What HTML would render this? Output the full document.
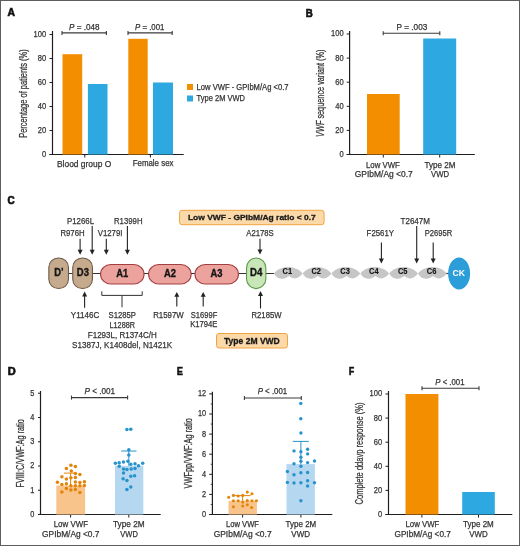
<!DOCTYPE html>
<html><head><meta charset="utf-8"><style>
html,body{margin:0;padding:0;background:#fff;}
body{width:520px;height:546px;overflow:hidden;}
svg{display:block;font-family:"Liberation Sans", sans-serif;will-change:transform;}
</style></head><body>
<svg width="520" height="546" viewBox="0 0 520 546">
<rect x="0" y="0" width="520" height="546" fill="#fff"/>
<text x="7.60" y="16.20" font-size="11.81" font-weight="bold" fill="#111" stroke="#111" stroke-width="0.7" textLength="7.50" lengthAdjust="spacingAndGlyphs">A</text>
<line x1="52.50" y1="31.00" x2="52.50" y2="155.00" stroke="#1e1e1e" stroke-width="1.20"/>
<line x1="49.50" y1="154.50" x2="183.70" y2="154.50" stroke="#1e1e1e" stroke-width="1.20"/>
<line x1="49.50" y1="154.50" x2="52.50" y2="154.50" stroke="#1e1e1e" stroke-width="1.00"/>
<text x="41.90" y="156.90" font-size="8.80" font-weight="normal" font-style="normal" fill="#333" stroke="#333" stroke-width="0.25" textLength="4.20" lengthAdjust="spacingAndGlyphs">0</text>
<line x1="49.50" y1="130.50" x2="52.50" y2="130.50" stroke="#1e1e1e" stroke-width="1.00"/>
<text x="37.70" y="132.90" font-size="8.80" font-weight="normal" font-style="normal" fill="#333" stroke="#333" stroke-width="0.25" textLength="8.40" lengthAdjust="spacingAndGlyphs">20</text>
<line x1="49.50" y1="106.50" x2="52.50" y2="106.50" stroke="#1e1e1e" stroke-width="1.00"/>
<text x="37.70" y="108.90" font-size="8.80" font-weight="normal" font-style="normal" fill="#333" stroke="#333" stroke-width="0.25" textLength="8.40" lengthAdjust="spacingAndGlyphs">40</text>
<line x1="49.50" y1="82.50" x2="52.50" y2="82.50" stroke="#1e1e1e" stroke-width="1.00"/>
<text x="37.70" y="84.90" font-size="8.80" font-weight="normal" font-style="normal" fill="#333" stroke="#333" stroke-width="0.25" textLength="8.40" lengthAdjust="spacingAndGlyphs">60</text>
<line x1="49.50" y1="58.50" x2="52.50" y2="58.50" stroke="#1e1e1e" stroke-width="1.00"/>
<text x="37.70" y="60.90" font-size="8.80" font-weight="normal" font-style="normal" fill="#333" stroke="#333" stroke-width="0.25" textLength="8.40" lengthAdjust="spacingAndGlyphs">80</text>
<line x1="49.50" y1="34.50" x2="52.50" y2="34.50" stroke="#1e1e1e" stroke-width="1.00"/>
<text x="33.50" y="36.90" font-size="8.80" font-weight="normal" font-style="normal" fill="#333" stroke="#333" stroke-width="0.25" textLength="12.60" lengthAdjust="spacingAndGlyphs">100</text>
<line x1="84.80" y1="154.50" x2="84.80" y2="157.50" stroke="#1e1e1e" stroke-width="1.00"/>
<line x1="150.40" y1="154.50" x2="150.40" y2="157.50" stroke="#1e1e1e" stroke-width="1.00"/>
<rect x="62.50" y="54.20" width="19.70" height="100.30" fill="#f28e00"/>
<rect x="87.90" y="84.00" width="19.60" height="70.50" fill="#2ea8e0"/>
<rect x="128.30" y="38.80" width="19.40" height="115.70" fill="#f28e00"/>
<rect x="153.00" y="82.50" width="20.00" height="72.00" fill="#2ea8e0"/>
<line x1="62.00" y1="32.90" x2="106.40" y2="32.90" stroke="#3a3a3a" stroke-width="1.10"/>
<line x1="62.00" y1="30.90" x2="62.00" y2="34.90" stroke="#3a3a3a" stroke-width="1.10"/>
<line x1="106.40" y1="30.90" x2="106.40" y2="34.90" stroke="#3a3a3a" stroke-width="1.10"/>
<line x1="128.00" y1="32.90" x2="172.20" y2="32.90" stroke="#3a3a3a" stroke-width="1.10"/>
<line x1="128.00" y1="30.90" x2="128.00" y2="34.90" stroke="#3a3a3a" stroke-width="1.10"/>
<line x1="172.20" y1="30.90" x2="172.20" y2="34.90" stroke="#3a3a3a" stroke-width="1.10"/>
<text x="69.10" y="29.60" font-size="8.60" font-weight="normal" font-style="normal" fill="#333" stroke="#333" stroke-width="0.25" textLength="30.30" lengthAdjust="spacingAndGlyphs"><tspan font-style="italic">P</tspan> = .048</text>
<text x="135.10" y="29.60" font-size="8.60" font-weight="normal" font-style="normal" fill="#333" stroke="#333" stroke-width="0.25" textLength="29.30" lengthAdjust="spacingAndGlyphs"><tspan font-style="italic">P</tspan> = .001</text>
<text x="57.00" y="166.50" font-size="8.80" font-weight="normal" font-style="normal" fill="#333" stroke="#333" stroke-width="0.25" textLength="54.20" lengthAdjust="spacingAndGlyphs">Blood group O</text>
<text x="132.70" y="166.30" font-size="8.80" font-weight="normal" font-style="normal" fill="#333" stroke="#333" stroke-width="0.25" textLength="40.80" lengthAdjust="spacingAndGlyphs">Female sex</text>
<text transform="translate(27.20,93.55) rotate(-90)" x="0" y="0" font-size="10.20" fill="#333" stroke="#333" stroke-width="0.25" text-anchor="middle" textLength="88.50" lengthAdjust="spacingAndGlyphs">Percentage of patients (%)</text>
<rect x="187.00" y="84.00" width="6.00" height="6.00" fill="#f28e00"/>
<rect x="187.00" y="95.50" width="6.00" height="6.00" fill="#2ea8e0"/>
<text x="196.60" y="89.60" font-size="8.60" font-weight="normal" font-style="normal" fill="#333" stroke="#333" stroke-width="0.25" textLength="91.90" lengthAdjust="spacingAndGlyphs">Low VWF - GPIbM/Ag &lt;0.7</text>
<text x="196.60" y="101.20" font-size="8.60" font-weight="normal" font-style="normal" fill="#333" stroke="#333" stroke-width="0.25" textLength="48.40" lengthAdjust="spacingAndGlyphs">Type 2M VWD</text>
<text x="305.70" y="16.60" font-size="11.39" font-weight="bold" fill="#111" stroke="#111" stroke-width="0.7" textLength="7.00" lengthAdjust="spacingAndGlyphs">B</text>
<line x1="349.60" y1="31.00" x2="349.60" y2="155.00" stroke="#1e1e1e" stroke-width="1.20"/>
<line x1="346.70" y1="154.50" x2="474.80" y2="154.50" stroke="#1e1e1e" stroke-width="1.20"/>
<line x1="346.70" y1="154.50" x2="349.70" y2="154.50" stroke="#1e1e1e" stroke-width="1.00"/>
<text x="339.40" y="156.90" font-size="8.80" font-weight="normal" font-style="normal" fill="#333" stroke="#333" stroke-width="0.25" textLength="4.20" lengthAdjust="spacingAndGlyphs">0</text>
<line x1="346.70" y1="130.40" x2="349.70" y2="130.40" stroke="#1e1e1e" stroke-width="1.00"/>
<text x="335.20" y="132.80" font-size="8.80" font-weight="normal" font-style="normal" fill="#333" stroke="#333" stroke-width="0.25" textLength="8.40" lengthAdjust="spacingAndGlyphs">20</text>
<line x1="346.70" y1="106.30" x2="349.70" y2="106.30" stroke="#1e1e1e" stroke-width="1.00"/>
<text x="335.20" y="108.70" font-size="8.80" font-weight="normal" font-style="normal" fill="#333" stroke="#333" stroke-width="0.25" textLength="8.40" lengthAdjust="spacingAndGlyphs">40</text>
<line x1="346.70" y1="82.20" x2="349.70" y2="82.20" stroke="#1e1e1e" stroke-width="1.00"/>
<text x="335.20" y="84.60" font-size="8.80" font-weight="normal" font-style="normal" fill="#333" stroke="#333" stroke-width="0.25" textLength="8.40" lengthAdjust="spacingAndGlyphs">60</text>
<line x1="346.70" y1="58.10" x2="349.70" y2="58.10" stroke="#1e1e1e" stroke-width="1.00"/>
<text x="335.20" y="60.50" font-size="8.80" font-weight="normal" font-style="normal" fill="#333" stroke="#333" stroke-width="0.25" textLength="8.40" lengthAdjust="spacingAndGlyphs">80</text>
<line x1="346.70" y1="34.00" x2="349.70" y2="34.00" stroke="#1e1e1e" stroke-width="1.00"/>
<text x="331.00" y="36.40" font-size="8.80" font-weight="normal" font-style="normal" fill="#333" stroke="#333" stroke-width="0.25" textLength="12.60" lengthAdjust="spacingAndGlyphs">100</text>
<line x1="383.30" y1="154.50" x2="383.30" y2="157.50" stroke="#1e1e1e" stroke-width="1.00"/>
<line x1="439.70" y1="154.50" x2="439.70" y2="157.50" stroke="#1e1e1e" stroke-width="1.00"/>
<rect x="367.00" y="94.00" width="32.70" height="60.50" fill="#f28e00"/>
<rect x="423.20" y="38.50" width="33.00" height="116.00" fill="#2ea8e0"/>
<line x1="383.20" y1="33.20" x2="439.80" y2="33.20" stroke="#3a3a3a" stroke-width="1.10"/>
<line x1="383.20" y1="31.20" x2="383.20" y2="35.20" stroke="#3a3a3a" stroke-width="1.10"/>
<line x1="439.80" y1="31.20" x2="439.80" y2="35.20" stroke="#3a3a3a" stroke-width="1.10"/>
<text x="396.60" y="29.70" font-size="8.60" font-weight="normal" font-style="normal" fill="#333" stroke="#333" stroke-width="0.25" textLength="30.70" lengthAdjust="spacingAndGlyphs">P = .003</text>
<text x="366.00" y="167.80" font-size="8.80" font-weight="normal" font-style="normal" fill="#333" stroke="#333" stroke-width="0.25" textLength="33.80" lengthAdjust="spacingAndGlyphs">Low VWF</text>
<text x="354.80" y="177.00" font-size="8.80" font-weight="normal" font-style="normal" fill="#333" stroke="#333" stroke-width="0.25" textLength="58.00" lengthAdjust="spacingAndGlyphs">GPIbM/Ag &lt;0.7</text>
<text x="424.40" y="167.80" font-size="8.80" font-weight="normal" font-style="normal" fill="#333" stroke="#333" stroke-width="0.25" textLength="31.00" lengthAdjust="spacingAndGlyphs">Type 2M</text>
<text x="431.00" y="177.00" font-size="8.80" font-weight="normal" font-style="normal" fill="#333" stroke="#333" stroke-width="0.25" textLength="18.00" lengthAdjust="spacingAndGlyphs">VWD</text>
<text transform="translate(323.80,93.20) rotate(-90)" x="0" y="0" font-size="10.20" fill="#333" stroke="#333" stroke-width="0.25" text-anchor="middle" textLength="87.40" lengthAdjust="spacingAndGlyphs"><tspan font-style="italic">VWF</tspan> sequence variant (%)</text>
<text x="7.60" y="203.90" font-size="10.69" font-weight="bold" fill="#111" stroke="#111" stroke-width="0.7" textLength="7.10" lengthAdjust="spacingAndGlyphs">C</text>
<line x1="68.50" y1="273.50" x2="274.00" y2="273.50" stroke="#333" stroke-width="1.20"/>
<line x1="444.00" y1="273.50" x2="449.00" y2="273.50" stroke="#333" stroke-width="1.20"/>
<path d="M273.80,273.60 C280.43,264.70 296.00,264.70 302.63,273.60 C298.60,279.30 293.41,279.70 289.02,275.90 C282.45,280.30 277.55,279.70 273.80,273.60 Z" fill="#c6c6c6"/>
<text x="282.62" y="274.3" font-size="8.4" font-weight="bold" fill="#111" stroke="#111" stroke-width="0.12" textLength="9.6" lengthAdjust="spacingAndGlyphs">C1</text>
<path d="M302.63,273.60 C309.26,264.70 324.83,264.70 331.47,273.60 C327.43,279.30 322.24,279.70 317.85,275.90 C311.28,280.30 306.38,279.70 302.63,273.60 Z" fill="#c6c6c6"/>
<text x="311.45" y="274.3" font-size="8.4" font-weight="bold" fill="#111" stroke="#111" stroke-width="0.12" textLength="9.6" lengthAdjust="spacingAndGlyphs">C2</text>
<path d="M331.47,273.60 C338.10,264.70 353.67,264.70 360.30,273.60 C356.26,279.30 351.07,279.70 346.68,275.90 C340.12,280.30 335.22,279.70 331.47,273.60 Z" fill="#c6c6c6"/>
<text x="340.28" y="274.3" font-size="8.4" font-weight="bold" fill="#111" stroke="#111" stroke-width="0.12" textLength="9.6" lengthAdjust="spacingAndGlyphs">C3</text>
<path d="M360.30,273.60 C366.93,264.70 382.50,264.70 389.13,273.60 C385.10,279.30 379.91,279.70 375.52,275.90 C368.95,280.30 364.05,279.70 360.30,273.60 Z" fill="#c6c6c6"/>
<text x="369.12" y="274.3" font-size="8.4" font-weight="bold" fill="#111" stroke="#111" stroke-width="0.12" textLength="9.6" lengthAdjust="spacingAndGlyphs">C4</text>
<path d="M389.13,273.60 C395.76,264.70 411.33,264.70 417.97,273.60 C413.93,279.30 408.74,279.70 404.35,275.90 C397.78,280.30 392.88,279.70 389.13,273.60 Z" fill="#c6c6c6"/>
<text x="397.95" y="274.3" font-size="8.4" font-weight="bold" fill="#111" stroke="#111" stroke-width="0.12" textLength="9.6" lengthAdjust="spacingAndGlyphs">C5</text>
<path d="M417.97,273.60 C424.60,264.70 440.17,264.70 446.80,273.60 C442.76,279.30 437.57,279.70 433.18,275.90 C426.62,280.30 421.72,279.70 417.97,273.60 Z" fill="#c6c6c6"/>
<text x="426.78" y="274.3" font-size="8.4" font-weight="bold" fill="#111" stroke="#111" stroke-width="0.12" textLength="9.6" lengthAdjust="spacingAndGlyphs">C6</text>
<rect x="48.85" y="257.95" width="19.60" height="30.60" rx="9.60" ry="9.20" fill="#c6aa8d" stroke="#6f5a47" stroke-width="1.10"/>
<rect x="72.75" y="257.95" width="19.70" height="30.60" rx="9.60" ry="9.20" fill="#c6aa8d" stroke="#6f5a47" stroke-width="1.10"/>
<rect x="100.55" y="264.45" width="43.50" height="19.60" rx="10.30" ry="10.30" fill="#eca39e" stroke="#a53e40" stroke-width="1.10"/>
<rect x="148.55" y="264.45" width="42.60" height="19.60" rx="10.30" ry="10.30" fill="#eca39e" stroke="#a53e40" stroke-width="1.10"/>
<rect x="194.95" y="264.45" width="43.50" height="19.60" rx="10.30" ry="10.30" fill="#eca39e" stroke="#a53e40" stroke-width="1.10"/>
<rect x="246.55" y="257.95" width="19.30" height="30.70" rx="9.80" ry="10.00" fill="#c9e6b8" stroke="#5d9b4a" stroke-width="1.10"/>
<ellipse cx="459.1" cy="273.45" rx="11" ry="16.05" fill="#2b9dd9"/>
<text x="54.20" y="276.40" font-size="10.00" font-weight="bold" fill="#161616" stroke="#161616" stroke-width="0.35" textLength="9.30" lengthAdjust="spacingAndGlyphs">D&#8217;</text>
<text x="76.80" y="276.40" font-size="10.00" font-weight="bold" fill="#161616" stroke="#161616" stroke-width="0.35" textLength="12.10" lengthAdjust="spacingAndGlyphs">D3</text>
<text x="116.20" y="276.60" font-size="10.00" font-weight="bold" fill="#161616" stroke="#161616" stroke-width="0.35" textLength="12.00" lengthAdjust="spacingAndGlyphs">A1</text>
<text x="164.00" y="276.60" font-size="10.00" font-weight="bold" fill="#161616" stroke="#161616" stroke-width="0.35" textLength="12.00" lengthAdjust="spacingAndGlyphs">A2</text>
<text x="210.60" y="276.60" font-size="10.00" font-weight="bold" fill="#161616" stroke="#161616" stroke-width="0.35" textLength="12.00" lengthAdjust="spacingAndGlyphs">A3</text>
<text x="250.10" y="276.40" font-size="10.00" font-weight="bold" fill="#161616" stroke="#161616" stroke-width="0.35" textLength="12.30" lengthAdjust="spacingAndGlyphs">D4</text>
<text x="452.5" y="276.4" font-size="9.4" font-weight="bold" fill="#ffffff" textLength="12.5" lengthAdjust="spacingAndGlyphs">CK</text>
<line x1="80.10" y1="238.80" x2="80.10" y2="251.70" stroke="#222" stroke-width="1.10"/>
<path d="M77.60,249.80 L82.60,249.80 L80.10,254.70 Z" fill="#222"/>
<line x1="92.20" y1="226.00" x2="92.20" y2="251.70" stroke="#222" stroke-width="1.10"/>
<path d="M89.70,249.80 L94.70,249.80 L92.20,254.70 Z" fill="#222"/>
<line x1="106.30" y1="238.80" x2="106.30" y2="251.70" stroke="#222" stroke-width="1.10"/>
<path d="M103.80,249.80 L108.80,249.80 L106.30,254.70 Z" fill="#222"/>
<line x1="127.40" y1="226.00" x2="127.40" y2="251.70" stroke="#222" stroke-width="1.10"/>
<path d="M124.90,249.80 L129.90,249.80 L127.40,254.70 Z" fill="#222"/>
<line x1="260.00" y1="238.80" x2="260.00" y2="251.40" stroke="#222" stroke-width="1.10"/>
<path d="M257.50,249.50 L262.50,249.50 L260.00,254.40 Z" fill="#222"/>
<line x1="381.40" y1="242.60" x2="381.40" y2="260.40" stroke="#222" stroke-width="1.10"/>
<path d="M378.90,258.50 L383.90,258.50 L381.40,263.40 Z" fill="#222"/>
<line x1="416.70" y1="226.00" x2="416.70" y2="260.40" stroke="#222" stroke-width="1.10"/>
<path d="M414.20,258.50 L419.20,258.50 L416.70,263.40 Z" fill="#222"/>
<line x1="433.20" y1="242.60" x2="433.20" y2="260.40" stroke="#222" stroke-width="1.10"/>
<path d="M430.70,258.50 L435.70,258.50 L433.20,263.40 Z" fill="#222"/>
<line x1="84.60" y1="294.60" x2="84.60" y2="307.70" stroke="#222" stroke-width="1.10"/>
<path d="M82.10,296.50 L87.10,296.50 L84.60,291.60 Z" fill="#222"/>
<line x1="176.80" y1="294.90" x2="176.80" y2="306.50" stroke="#222" stroke-width="1.10"/>
<path d="M174.30,296.80 L179.30,296.80 L176.80,291.90 Z" fill="#222"/>
<line x1="203.20" y1="294.90" x2="203.20" y2="306.50" stroke="#222" stroke-width="1.10"/>
<path d="M200.70,296.80 L205.70,296.80 L203.20,291.90 Z" fill="#222"/>
<line x1="260.50" y1="294.10" x2="260.50" y2="308.50" stroke="#222" stroke-width="1.10"/>
<path d="M258.00,296.00 L263.00,296.00 L260.50,291.10 Z" fill="#222"/>
<path d="M101.8,291.3 L101.8,295.4 L142.2,295.4 L142.2,291.3" fill="none" stroke="#333" stroke-width="1"/>
<line x1="122.00" y1="295.40" x2="122.00" y2="307.30" stroke="#333" stroke-width="1.00"/>
<text x="67.00" y="224.00" font-size="9.50" font-weight="normal" font-style="normal" fill="#333" stroke="#333" stroke-width="0.25" textLength="27.00" lengthAdjust="spacingAndGlyphs">P1266L</text>
<text x="60.40" y="236.20" font-size="9.50" font-weight="normal" font-style="normal" fill="#333" stroke="#333" stroke-width="0.25" textLength="24.20" lengthAdjust="spacingAndGlyphs">R976H</text>
<text x="97.70" y="236.00" font-size="9.50" font-weight="normal" font-style="normal" fill="#333" stroke="#333" stroke-width="0.25" textLength="24.80" lengthAdjust="spacingAndGlyphs">V1279I</text>
<text x="114.00" y="223.90" font-size="9.50" font-weight="normal" font-style="normal" fill="#333" stroke="#333" stroke-width="0.25" textLength="28.50" lengthAdjust="spacingAndGlyphs">R1399H</text>
<text x="246.25" y="236.20" font-size="9.50" font-weight="normal" font-style="normal" fill="#333" stroke="#333" stroke-width="0.25" textLength="27.50" lengthAdjust="spacingAndGlyphs">A2178S</text>
<text x="366.60" y="236.00" font-size="9.50" font-weight="normal" font-style="normal" fill="#333" stroke="#333" stroke-width="0.25" textLength="27.50" lengthAdjust="spacingAndGlyphs">F2561Y</text>
<text x="400.50" y="223.60" font-size="9.50" font-weight="normal" font-style="normal" fill="#333" stroke="#333" stroke-width="0.25" textLength="29.50" lengthAdjust="spacingAndGlyphs">T2647M</text>
<text x="424.80" y="236.00" font-size="9.50" font-weight="normal" font-style="normal" fill="#333" stroke="#333" stroke-width="0.25" textLength="27.50" lengthAdjust="spacingAndGlyphs">P2695R</text>
<text x="70.80" y="318.00" font-size="9.50" font-weight="normal" font-style="normal" fill="#333" stroke="#333" stroke-width="0.25" textLength="28.40" lengthAdjust="spacingAndGlyphs">Y1146C</text>
<text x="108.60" y="318.30" font-size="9.50" font-weight="normal" font-style="normal" fill="#333" stroke="#333" stroke-width="0.25" textLength="27.40" lengthAdjust="spacingAndGlyphs">S1285P</text>
<text x="109.50" y="327.50" font-size="9.50" font-weight="normal" font-style="normal" fill="#333" stroke="#333" stroke-width="0.25" textLength="25.50" lengthAdjust="spacingAndGlyphs">L1288R</text>
<text x="87.80" y="337.80" font-size="9.50" font-weight="normal" font-style="normal" fill="#333" stroke="#333" stroke-width="0.25" textLength="69.00" lengthAdjust="spacingAndGlyphs">F1293L, R1374C/H</text>
<text x="72.10" y="347.50" font-size="9.50" font-weight="normal" font-style="normal" fill="#333" stroke="#333" stroke-width="0.25" textLength="100.10" lengthAdjust="spacingAndGlyphs">S1387J, K1408del, N1421K</text>
<text x="153.20" y="318.10" font-size="9.50" font-weight="normal" font-style="normal" fill="#333" stroke="#333" stroke-width="0.25" textLength="30.60" lengthAdjust="spacingAndGlyphs">R1597W</text>
<text x="190.80" y="318.10" font-size="9.50" font-weight="normal" font-style="normal" fill="#333" stroke="#333" stroke-width="0.25" textLength="26.50" lengthAdjust="spacingAndGlyphs">S1699F</text>
<text x="190.20" y="326.90" font-size="9.50" font-weight="normal" font-style="normal" fill="#333" stroke="#333" stroke-width="0.25" textLength="27.30" lengthAdjust="spacingAndGlyphs">K1794E</text>
<text x="251.50" y="317.50" font-size="9.50" font-weight="normal" font-style="normal" fill="#333" stroke="#333" stroke-width="0.25" textLength="30.00" lengthAdjust="spacingAndGlyphs">R2185W</text>
<rect x="179.6" y="210.3" width="144.5" height="14.4" rx="2.5" fill="#fcd9a9" stroke="#f0a440" stroke-width="1"/>
<text x="187.9" y="220.3" font-size="8.1" font-weight="bold" fill="#1a1a1a" stroke="#1a1a1a" stroke-width="0.3" textLength="127.9" lengthAdjust="spacingAndGlyphs">Low VWF - GPIbM/Ag ratio &lt; 0.7</text>
<rect x="216.5" y="333.5" width="71" height="14.5" rx="2.5" fill="#fcd9a9" stroke="#f0a440" stroke-width="1"/>
<text x="224" y="343.6" font-size="8.4" font-weight="bold" fill="#1a1a1a" stroke="#1a1a1a" stroke-width="0.3" textLength="55.8" lengthAdjust="spacingAndGlyphs">Type 2M VWD</text>
<text x="7.70" y="374.80" font-size="11.81" font-weight="bold" fill="#111" stroke="#111" stroke-width="0.7" textLength="8.00" lengthAdjust="spacingAndGlyphs">D</text>
<line x1="40.50" y1="391.00" x2="40.50" y2="515.00" stroke="#1e1e1e" stroke-width="1.20"/>
<line x1="38.00" y1="514.50" x2="160.70" y2="514.50" stroke="#1e1e1e" stroke-width="1.20"/>
<line x1="38.00" y1="514.50" x2="40.60" y2="514.50" stroke="#1e1e1e" stroke-width="1.00"/>
<text x="30.20" y="516.90" font-size="8.80" font-weight="normal" font-style="normal" fill="#333" stroke="#333" stroke-width="0.25" textLength="4.10" lengthAdjust="spacingAndGlyphs">0</text>
<line x1="38.00" y1="490.25" x2="40.60" y2="490.25" stroke="#1e1e1e" stroke-width="1.00"/>
<text x="30.20" y="492.65" font-size="8.80" font-weight="normal" font-style="normal" fill="#333" stroke="#333" stroke-width="0.25" textLength="4.10" lengthAdjust="spacingAndGlyphs">1</text>
<line x1="38.00" y1="466.00" x2="40.60" y2="466.00" stroke="#1e1e1e" stroke-width="1.00"/>
<text x="30.20" y="468.40" font-size="8.80" font-weight="normal" font-style="normal" fill="#333" stroke="#333" stroke-width="0.25" textLength="4.10" lengthAdjust="spacingAndGlyphs">2</text>
<line x1="38.00" y1="441.75" x2="40.60" y2="441.75" stroke="#1e1e1e" stroke-width="1.00"/>
<text x="30.20" y="444.15" font-size="8.80" font-weight="normal" font-style="normal" fill="#333" stroke="#333" stroke-width="0.25" textLength="4.10" lengthAdjust="spacingAndGlyphs">3</text>
<line x1="38.00" y1="417.50" x2="40.60" y2="417.50" stroke="#1e1e1e" stroke-width="1.00"/>
<text x="30.20" y="419.90" font-size="8.80" font-weight="normal" font-style="normal" fill="#333" stroke="#333" stroke-width="0.25" textLength="4.10" lengthAdjust="spacingAndGlyphs">4</text>
<line x1="38.00" y1="393.25" x2="40.60" y2="393.25" stroke="#1e1e1e" stroke-width="1.00"/>
<text x="30.20" y="395.65" font-size="8.80" font-weight="normal" font-style="normal" fill="#333" stroke="#333" stroke-width="0.25" textLength="4.10" lengthAdjust="spacingAndGlyphs">5</text>
<line x1="70.60" y1="514.50" x2="70.60" y2="517.50" stroke="#1e1e1e" stroke-width="1.00"/>
<line x1="128.80" y1="514.50" x2="128.80" y2="517.50" stroke="#1e1e1e" stroke-width="1.00"/>
<rect x="56.30" y="485.50" width="28.80" height="29.00" fill="#f8c48c"/>
<rect x="115.00" y="465.80" width="28.30" height="48.70" fill="#b6d7f0"/>
<line x1="70.60" y1="485.50" x2="70.60" y2="473.10" stroke="#e4850a" stroke-width="1.00"/>
<line x1="63.80" y1="473.10" x2="75.60" y2="473.10" stroke="#e4850a" stroke-width="1.00"/>
<line x1="128.80" y1="465.80" x2="128.80" y2="451.00" stroke="#2793cd" stroke-width="1.00"/>
<line x1="121.20" y1="451.00" x2="136.50" y2="451.00" stroke="#2793cd" stroke-width="1.00"/>
<circle cx="70.90" cy="465.30" r="1.75" fill="#e4850a"/>
<circle cx="75.40" cy="466.50" r="1.75" fill="#e4850a"/>
<circle cx="66.40" cy="468.50" r="1.75" fill="#e4850a"/>
<circle cx="71.30" cy="471.00" r="1.75" fill="#e4850a"/>
<circle cx="75.40" cy="473.60" r="1.75" fill="#e4850a"/>
<circle cx="79.90" cy="474.50" r="1.75" fill="#e4850a"/>
<circle cx="61.90" cy="476.80" r="1.75" fill="#e4850a"/>
<circle cx="70.90" cy="477.80" r="1.75" fill="#e4850a"/>
<circle cx="75.40" cy="477.40" r="1.75" fill="#e4850a"/>
<circle cx="66.40" cy="479.10" r="1.75" fill="#e4850a"/>
<circle cx="57.40" cy="482.30" r="1.75" fill="#e4850a"/>
<circle cx="61.90" cy="484.50" r="1.75" fill="#e4850a"/>
<circle cx="66.40" cy="483.80" r="1.75" fill="#e4850a"/>
<circle cx="70.90" cy="485.80" r="1.75" fill="#e4850a"/>
<circle cx="75.40" cy="481.90" r="1.75" fill="#e4850a"/>
<circle cx="79.90" cy="482.60" r="1.75" fill="#e4850a"/>
<circle cx="84.40" cy="481.70" r="1.75" fill="#e4850a"/>
<circle cx="75.40" cy="485.80" r="1.75" fill="#e4850a"/>
<circle cx="79.90" cy="485.80" r="1.75" fill="#e4850a"/>
<circle cx="84.40" cy="485.50" r="1.75" fill="#e4850a"/>
<circle cx="66.40" cy="488.60" r="1.75" fill="#e4850a"/>
<circle cx="70.90" cy="489.90" r="1.75" fill="#e4850a"/>
<circle cx="75.40" cy="489.40" r="1.75" fill="#e4850a"/>
<circle cx="61.90" cy="491.90" r="1.75" fill="#e4850a"/>
<circle cx="79.90" cy="492.40" r="1.75" fill="#e4850a"/>
<circle cx="126.90" cy="429.60" r="1.75" fill="#2793cd"/>
<circle cx="130.80" cy="429.20" r="1.75" fill="#2793cd"/>
<circle cx="128.80" cy="449.80" r="1.75" fill="#2793cd"/>
<circle cx="128.80" cy="455.00" r="1.75" fill="#2793cd"/>
<circle cx="115.40" cy="463.30" r="1.75" fill="#2793cd"/>
<circle cx="119.20" cy="462.70" r="1.75" fill="#2793cd"/>
<circle cx="123.50" cy="461.90" r="1.75" fill="#2793cd"/>
<circle cx="127.90" cy="461.30" r="1.75" fill="#2793cd"/>
<circle cx="130.80" cy="464.20" r="1.75" fill="#2793cd"/>
<circle cx="135.00" cy="463.80" r="1.75" fill="#2793cd"/>
<circle cx="138.50" cy="465.80" r="1.75" fill="#2793cd"/>
<circle cx="142.70" cy="463.30" r="1.75" fill="#2793cd"/>
<circle cx="119.20" cy="466.20" r="1.75" fill="#2793cd"/>
<circle cx="123.50" cy="469.00" r="1.75" fill="#2793cd"/>
<circle cx="126.90" cy="469.60" r="1.75" fill="#2793cd"/>
<circle cx="131.20" cy="469.00" r="1.75" fill="#2793cd"/>
<circle cx="135.00" cy="468.50" r="1.75" fill="#2793cd"/>
<circle cx="123.50" cy="472.90" r="1.75" fill="#2793cd"/>
<circle cx="130.80" cy="476.20" r="1.75" fill="#2793cd"/>
<circle cx="134.60" cy="475.80" r="1.75" fill="#2793cd"/>
<circle cx="123.10" cy="478.70" r="1.75" fill="#2793cd"/>
<circle cx="126.90" cy="480.60" r="1.75" fill="#2793cd"/>
<circle cx="130.80" cy="486.90" r="1.75" fill="#2793cd"/>
<circle cx="126.90" cy="489.60" r="1.75" fill="#2793cd"/>
<line x1="71.50" y1="397.60" x2="127.60" y2="397.60" stroke="#3a3a3a" stroke-width="1.10"/>
<line x1="71.50" y1="395.60" x2="71.50" y2="399.60" stroke="#3a3a3a" stroke-width="1.10"/>
<line x1="127.60" y1="395.60" x2="127.60" y2="399.60" stroke="#3a3a3a" stroke-width="1.10"/>
<text x="84.50" y="394.20" font-size="8.60" font-weight="normal" font-style="normal" fill="#333" stroke="#333" stroke-width="0.25" textLength="30.50" lengthAdjust="spacingAndGlyphs"><tspan font-style="italic">P</tspan> &lt; .001</text>
<text x="53.70" y="527.00" font-size="8.80" font-weight="normal" font-style="normal" fill="#333" stroke="#333" stroke-width="0.25" textLength="34.30" lengthAdjust="spacingAndGlyphs">Low VWF</text>
<text x="42.10" y="536.80" font-size="8.80" font-weight="normal" font-style="normal" fill="#333" stroke="#333" stroke-width="0.25" textLength="57.40" lengthAdjust="spacingAndGlyphs">GPIbM/Ag &lt;0.7</text>
<text x="113.00" y="527.00" font-size="8.80" font-weight="normal" font-style="normal" fill="#333" stroke="#333" stroke-width="0.25" textLength="31.60" lengthAdjust="spacingAndGlyphs">Type 2M</text>
<text x="120.30" y="536.80" font-size="8.80" font-weight="normal" font-style="normal" fill="#333" stroke="#333" stroke-width="0.25" textLength="17.50" lengthAdjust="spacingAndGlyphs">VWD</text>
<text transform="translate(24.40,453.40) rotate(-90)" x="0" y="0" font-size="10.20" fill="#333" stroke="#333" stroke-width="0.25" text-anchor="middle" textLength="68.40" lengthAdjust="spacingAndGlyphs">FVIII:C/VWF:Ag ratio</text>
<text x="177.00" y="374.70" font-size="10.14" font-weight="bold" fill="#111" stroke="#111" stroke-width="0.7" textLength="5.80" lengthAdjust="spacingAndGlyphs">E</text>
<line x1="212.40" y1="391.70" x2="212.40" y2="515.00" stroke="#1e1e1e" stroke-width="1.20"/>
<line x1="209.20" y1="514.50" x2="332.30" y2="514.50" stroke="#1e1e1e" stroke-width="1.20"/>
<line x1="209.20" y1="514.50" x2="212.20" y2="514.50" stroke="#1e1e1e" stroke-width="1.00"/>
<text x="202.10" y="516.90" font-size="8.80" font-weight="normal" font-style="normal" fill="#333" stroke="#333" stroke-width="0.25" textLength="4.10" lengthAdjust="spacingAndGlyphs">0</text>
<line x1="210.70" y1="504.45" x2="212.20" y2="504.45" stroke="#1e1e1e" stroke-width="0.80"/>
<line x1="209.20" y1="494.40" x2="212.20" y2="494.40" stroke="#1e1e1e" stroke-width="1.00"/>
<text x="202.10" y="496.80" font-size="8.80" font-weight="normal" font-style="normal" fill="#333" stroke="#333" stroke-width="0.25" textLength="4.10" lengthAdjust="spacingAndGlyphs">2</text>
<line x1="210.70" y1="484.35" x2="212.20" y2="484.35" stroke="#1e1e1e" stroke-width="0.80"/>
<line x1="209.20" y1="474.30" x2="212.20" y2="474.30" stroke="#1e1e1e" stroke-width="1.00"/>
<text x="202.10" y="476.70" font-size="8.80" font-weight="normal" font-style="normal" fill="#333" stroke="#333" stroke-width="0.25" textLength="4.10" lengthAdjust="spacingAndGlyphs">4</text>
<line x1="210.70" y1="464.25" x2="212.20" y2="464.25" stroke="#1e1e1e" stroke-width="0.80"/>
<line x1="209.20" y1="454.20" x2="212.20" y2="454.20" stroke="#1e1e1e" stroke-width="1.00"/>
<text x="202.10" y="456.60" font-size="8.80" font-weight="normal" font-style="normal" fill="#333" stroke="#333" stroke-width="0.25" textLength="4.10" lengthAdjust="spacingAndGlyphs">6</text>
<line x1="210.70" y1="444.15" x2="212.20" y2="444.15" stroke="#1e1e1e" stroke-width="0.80"/>
<line x1="209.20" y1="434.10" x2="212.20" y2="434.10" stroke="#1e1e1e" stroke-width="1.00"/>
<text x="202.10" y="436.50" font-size="8.80" font-weight="normal" font-style="normal" fill="#333" stroke="#333" stroke-width="0.25" textLength="4.10" lengthAdjust="spacingAndGlyphs">8</text>
<line x1="210.70" y1="424.05" x2="212.20" y2="424.05" stroke="#1e1e1e" stroke-width="0.80"/>
<line x1="209.20" y1="414.00" x2="212.20" y2="414.00" stroke="#1e1e1e" stroke-width="1.00"/>
<text x="198.00" y="416.40" font-size="8.80" font-weight="normal" font-style="normal" fill="#333" stroke="#333" stroke-width="0.25" textLength="8.20" lengthAdjust="spacingAndGlyphs">10</text>
<line x1="210.70" y1="403.95" x2="212.20" y2="403.95" stroke="#1e1e1e" stroke-width="0.80"/>
<line x1="209.20" y1="393.90" x2="212.20" y2="393.90" stroke="#1e1e1e" stroke-width="1.00"/>
<text x="198.00" y="396.30" font-size="8.80" font-weight="normal" font-style="normal" fill="#333" stroke="#333" stroke-width="0.25" textLength="8.20" lengthAdjust="spacingAndGlyphs">12</text>
<line x1="242.60" y1="514.50" x2="242.60" y2="517.50" stroke="#1e1e1e" stroke-width="1.00"/>
<line x1="300.90" y1="514.50" x2="300.90" y2="517.50" stroke="#1e1e1e" stroke-width="1.00"/>
<rect x="228.50" y="500.80" width="28.40" height="13.70" fill="#f8c48c"/>
<rect x="286.50" y="464.10" width="28.40" height="50.40" fill="#b6d7f0"/>
<line x1="242.60" y1="500.80" x2="242.60" y2="495.60" stroke="#e4850a" stroke-width="1.00"/>
<line x1="234.60" y1="495.60" x2="250.60" y2="495.60" stroke="#e4850a" stroke-width="1.00"/>
<line x1="300.90" y1="464.10" x2="300.90" y2="441.40" stroke="#2793cd" stroke-width="1.00"/>
<line x1="292.80" y1="441.40" x2="308.80" y2="441.40" stroke="#2793cd" stroke-width="1.00"/>
<circle cx="247.30" cy="492.10" r="1.55" fill="#e4850a"/>
<circle cx="252.00" cy="493.70" r="1.55" fill="#e4850a"/>
<circle cx="233.40" cy="495.40" r="1.55" fill="#e4850a"/>
<circle cx="238.20" cy="496.00" r="1.55" fill="#e4850a"/>
<circle cx="242.70" cy="495.40" r="1.55" fill="#e4850a"/>
<circle cx="228.70" cy="497.30" r="1.55" fill="#e4850a"/>
<circle cx="233.40" cy="500.80" r="1.55" fill="#e4850a"/>
<circle cx="238.20" cy="500.80" r="1.55" fill="#e4850a"/>
<circle cx="242.70" cy="502.10" r="1.55" fill="#e4850a"/>
<circle cx="247.30" cy="500.60" r="1.55" fill="#e4850a"/>
<circle cx="252.00" cy="500.80" r="1.55" fill="#e4850a"/>
<circle cx="256.40" cy="500.80" r="1.55" fill="#e4850a"/>
<circle cx="233.40" cy="506.70" r="1.55" fill="#e4850a"/>
<circle cx="242.70" cy="506.00" r="1.55" fill="#e4850a"/>
<circle cx="247.30" cy="504.70" r="1.55" fill="#e4850a"/>
<circle cx="251.60" cy="507.50" r="1.55" fill="#e4850a"/>
<circle cx="300.80" cy="403.40" r="1.7" fill="#2793cd"/>
<circle cx="300.80" cy="418.80" r="1.7" fill="#2793cd"/>
<circle cx="300.90" cy="433.00" r="1.7" fill="#2793cd"/>
<circle cx="294.00" cy="450.90" r="1.7" fill="#2793cd"/>
<circle cx="300.90" cy="451.70" r="1.7" fill="#2793cd"/>
<circle cx="307.60" cy="449.30" r="1.7" fill="#2793cd"/>
<circle cx="307.60" cy="453.90" r="1.7" fill="#2793cd"/>
<circle cx="300.90" cy="457.20" r="1.7" fill="#2793cd"/>
<circle cx="300.90" cy="461.30" r="1.7" fill="#2793cd"/>
<circle cx="314.50" cy="461.00" r="1.7" fill="#2793cd"/>
<circle cx="294.00" cy="463.80" r="1.7" fill="#2793cd"/>
<circle cx="307.60" cy="462.60" r="1.7" fill="#2793cd"/>
<circle cx="300.90" cy="466.20" r="1.7" fill="#2793cd"/>
<circle cx="287.40" cy="471.50" r="1.7" fill="#2793cd"/>
<circle cx="294.00" cy="474.80" r="1.7" fill="#2793cd"/>
<circle cx="300.90" cy="472.80" r="1.7" fill="#2793cd"/>
<circle cx="307.60" cy="472.50" r="1.7" fill="#2793cd"/>
<circle cx="287.40" cy="482.40" r="1.7" fill="#2793cd"/>
<circle cx="294.00" cy="483.00" r="1.7" fill="#2793cd"/>
<circle cx="300.90" cy="482.70" r="1.7" fill="#2793cd"/>
<circle cx="307.60" cy="480.70" r="1.7" fill="#2793cd"/>
<circle cx="307.60" cy="486.00" r="1.7" fill="#2793cd"/>
<circle cx="314.50" cy="482.70" r="1.7" fill="#2793cd"/>
<circle cx="300.90" cy="500.80" r="1.7" fill="#2793cd"/>
<line x1="244.40" y1="398.00" x2="301.30" y2="398.00" stroke="#3a3a3a" stroke-width="1.10"/>
<line x1="244.40" y1="396.00" x2="244.40" y2="400.00" stroke="#3a3a3a" stroke-width="1.10"/>
<line x1="301.30" y1="396.00" x2="301.30" y2="400.00" stroke="#3a3a3a" stroke-width="1.10"/>
<text x="257.70" y="394.20" font-size="8.60" font-weight="normal" font-style="normal" fill="#333" stroke="#333" stroke-width="0.25" textLength="29.50" lengthAdjust="spacingAndGlyphs"><tspan font-style="italic">P</tspan> &lt; .001</text>
<text x="226.00" y="527.40" font-size="8.80" font-weight="normal" font-style="normal" fill="#333" stroke="#333" stroke-width="0.25" textLength="33.00" lengthAdjust="spacingAndGlyphs">Low VWF</text>
<text x="213.70" y="536.80" font-size="8.80" font-weight="normal" font-style="normal" fill="#333" stroke="#333" stroke-width="0.25" textLength="57.90" lengthAdjust="spacingAndGlyphs">GPIbM/Ag &lt;0.7</text>
<text x="285.60" y="527.40" font-size="8.80" font-weight="normal" font-style="normal" fill="#333" stroke="#333" stroke-width="0.25" textLength="30.70" lengthAdjust="spacingAndGlyphs">Type 2M</text>
<text x="291.30" y="536.80" font-size="8.80" font-weight="normal" font-style="normal" fill="#333" stroke="#333" stroke-width="0.25" textLength="18.70" lengthAdjust="spacingAndGlyphs">VWD</text>
<text transform="translate(191.80,453.30) rotate(-90)" x="0" y="0" font-size="10.20" fill="#333" stroke="#333" stroke-width="0.25" text-anchor="middle" textLength="70.20" lengthAdjust="spacingAndGlyphs">VWFpp/VWF:Ag ratio</text>
<text x="349.00" y="374.70" font-size="10.14" font-weight="bold" fill="#111" stroke="#111" stroke-width="0.7" textLength="5.10" lengthAdjust="spacingAndGlyphs">F</text>
<line x1="388.50" y1="391.00" x2="388.50" y2="515.00" stroke="#1e1e1e" stroke-width="1.20"/>
<line x1="385.50" y1="514.50" x2="512.30" y2="514.50" stroke="#1e1e1e" stroke-width="1.20"/>
<line x1="385.50" y1="514.50" x2="388.50" y2="514.50" stroke="#1e1e1e" stroke-width="1.00"/>
<text x="378.00" y="516.90" font-size="8.80" font-weight="normal" font-style="normal" fill="#333" stroke="#333" stroke-width="0.25" textLength="4.20" lengthAdjust="spacingAndGlyphs">0</text>
<line x1="385.50" y1="490.40" x2="388.50" y2="490.40" stroke="#1e1e1e" stroke-width="1.00"/>
<text x="373.80" y="492.80" font-size="8.80" font-weight="normal" font-style="normal" fill="#333" stroke="#333" stroke-width="0.25" textLength="8.40" lengthAdjust="spacingAndGlyphs">20</text>
<line x1="385.50" y1="466.30" x2="388.50" y2="466.30" stroke="#1e1e1e" stroke-width="1.00"/>
<text x="373.80" y="468.70" font-size="8.80" font-weight="normal" font-style="normal" fill="#333" stroke="#333" stroke-width="0.25" textLength="8.40" lengthAdjust="spacingAndGlyphs">40</text>
<line x1="385.50" y1="442.20" x2="388.50" y2="442.20" stroke="#1e1e1e" stroke-width="1.00"/>
<text x="373.80" y="444.60" font-size="8.80" font-weight="normal" font-style="normal" fill="#333" stroke="#333" stroke-width="0.25" textLength="8.40" lengthAdjust="spacingAndGlyphs">60</text>
<line x1="385.50" y1="418.10" x2="388.50" y2="418.10" stroke="#1e1e1e" stroke-width="1.00"/>
<text x="373.80" y="420.50" font-size="8.80" font-weight="normal" font-style="normal" fill="#333" stroke="#333" stroke-width="0.25" textLength="8.40" lengthAdjust="spacingAndGlyphs">80</text>
<line x1="385.50" y1="394.00" x2="388.50" y2="394.00" stroke="#1e1e1e" stroke-width="1.00"/>
<text x="369.60" y="396.40" font-size="8.80" font-weight="normal" font-style="normal" fill="#333" stroke="#333" stroke-width="0.25" textLength="12.60" lengthAdjust="spacingAndGlyphs">100</text>
<line x1="421.90" y1="514.50" x2="421.90" y2="517.50" stroke="#1e1e1e" stroke-width="1.00"/>
<line x1="478.50" y1="514.50" x2="478.50" y2="517.50" stroke="#1e1e1e" stroke-width="1.00"/>
<rect x="405.50" y="394.00" width="32.90" height="120.50" fill="#f28e00"/>
<rect x="462.20" y="492.00" width="32.60" height="22.50" fill="#2ea8e0"/>
<line x1="422.00" y1="388.20" x2="479.00" y2="388.20" stroke="#3a3a3a" stroke-width="1.10"/>
<line x1="422.00" y1="386.20" x2="422.00" y2="390.20" stroke="#3a3a3a" stroke-width="1.10"/>
<line x1="479.00" y1="386.20" x2="479.00" y2="390.20" stroke="#3a3a3a" stroke-width="1.10"/>
<text x="435.30" y="384.80" font-size="8.60" font-weight="normal" font-style="normal" fill="#333" stroke="#333" stroke-width="0.25" textLength="29.20" lengthAdjust="spacingAndGlyphs"><tspan font-style="italic">P</tspan> &lt; .001</text>
<text x="405.50" y="527.20" font-size="8.80" font-weight="normal" font-style="normal" fill="#333" stroke="#333" stroke-width="0.25" textLength="33.90" lengthAdjust="spacingAndGlyphs">Low VWF</text>
<text x="394.50" y="536.80" font-size="8.80" font-weight="normal" font-style="normal" fill="#333" stroke="#333" stroke-width="0.25" textLength="56.30" lengthAdjust="spacingAndGlyphs">GPIbM/Ag &lt;0.7</text>
<text x="463.00" y="527.20" font-size="8.80" font-weight="normal" font-style="normal" fill="#333" stroke="#333" stroke-width="0.25" textLength="30.80" lengthAdjust="spacingAndGlyphs">Type 2M</text>
<text x="469.20" y="536.80" font-size="8.80" font-weight="normal" font-style="normal" fill="#333" stroke="#333" stroke-width="0.25" textLength="18.50" lengthAdjust="spacingAndGlyphs">VWD</text>
<text transform="translate(363.00,453.50) rotate(-90)" x="0" y="0" font-size="10.20" fill="#333" stroke="#333" stroke-width="0.25" text-anchor="middle" textLength="102.00" lengthAdjust="spacingAndGlyphs">Complete ddavp response (%)</text>
<rect x="0.5" y="0.5" width="519" height="545" fill="none" stroke="#5e5e5e" stroke-width="1"/>
</svg>
</body></html>
